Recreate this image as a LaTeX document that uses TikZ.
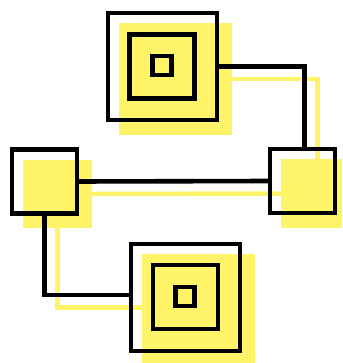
\documentclass[tikz,border=0pt]{standalone}
\definecolor{shade}{RGB}{255,244,104}
\begin{document}
\begin{tikzpicture}[x=1pt,y=-1pt,
  box/.style={rectangle,draw=black,line width=4.6pt,inner sep=0pt,outer sep=0pt},
  bigbox/.style={box,minimum width=109pt,minimum height=107pt},
  midbox/.style={box,minimum width=65pt,minimum height=64pt},
  tinybox/.style={box,minimum width=19pt,minimum height=19pt},
  shadowbig/.style={rectangle,fill=shade,inner sep=0pt,outer sep=0pt,minimum width=113.5pt,minimum height=111.5pt},
  shadowmid/.style={rectangle,fill=shade,inner sep=0pt,outer sep=0pt,minimum width=69.5pt,minimum height=68.5pt},
  wire/.style={draw=black,line width=4.6pt},
  shadowwire/.style={draw=shade,line width=4.5pt}]
\useasboundingbox (0,0) rectangle (342,363);
\clip (0,0) rectangle (342,363);

% yellow offset shadows of the four blocks
\node[shadowbig] (topS)   at (175.5,79)  {};
\node[shadowmid] (rightS) at (315.5,193.5) {};
\node[shadowmid] (leftS)  at (57.5,194)  {};
\node[shadowbig] (botS)   at (198.5,310) {};

% shadow wiring
\draw[shadowwire] (topS.east) -| ([xshift=2pt]rightS.north);
\draw[shadowwire] (leftS.east) -- (rightS.west);
\draw[shadowwire] (leftS.south) |- ([yshift=2.5pt]botS.west);

% black blocks and wiring
\node[bigbox] (top) at (162.5,66.5) {};
\node[midbox] (right) at (302.5,181) {};
\node[midbox] (left) at (44.5,181.5) {};
\node[bigbox] (bot) at (185.5,297.5) {};
\draw[wire] (top.east) -| ([xshift=2pt]right.north);
\draw[wire] (left.east) -- (right.west);
\draw[wire] (left.south) |- ([yshift=2.5pt]bot.west);

% nested squares inside the large blocks
\node[midbox] (topMid) at (162,66.5) {};
\node[tinybox] (topCore) at (162,65.5) {};
\node[midbox] (botMid) at (185.5,297) {};
\node[tinybox] (botCore) at (185,296.5) {};
\end{tikzpicture}
\end{document}
